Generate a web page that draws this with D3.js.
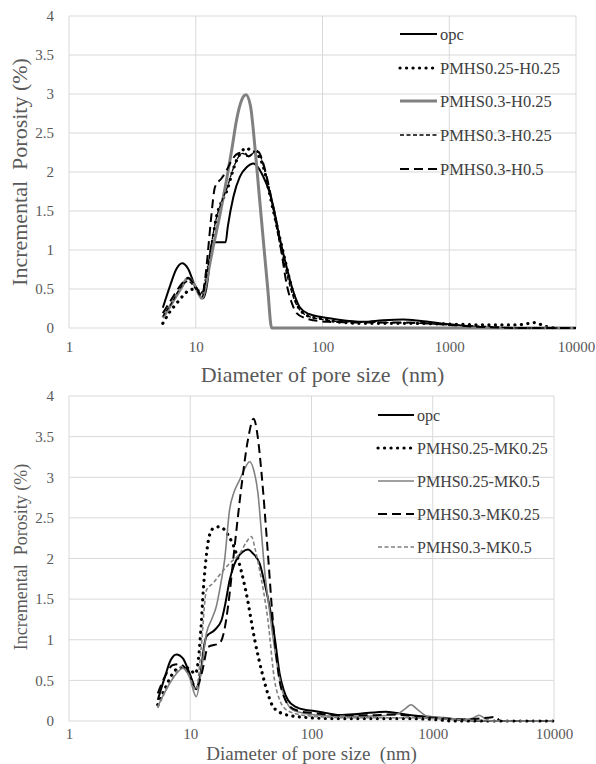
<!DOCTYPE html>
<html>
<head>
<meta charset="utf-8">
<script src="https://cdn.jsdelivr.net/npm/d3@7"></script>
<style>
  body { margin: 0; background: #fff; }
  svg { display: block; }
</style>
</head>
<body>
<svg id="chart" width="596" height="764"></svg>
<script>
/* pore size distribution, two panels */

var FONT = "Liberation Serif, Times New Roman, serif";

// shared axis ticks
var xTicks = [1, 10, 100, 1000, 10000];
var yTicks = [0, 0.5, 1, 1.5, 2, 2.5, 3, 3.5, 4];

// panel 1 series: [diameter nm, incremental porosity %]
var opcA = [[5.5,0.26],[6.3,0.55],[7.0,0.75],[7.8,0.83],[8.7,0.76],[9.8,0.55],[11.4,0.38],[12.6,0.7],[13.1,1.0],[13.6,1.1],[17.2,1.1],[17.9,1.3],[19.8,1.68],[22.3,1.94],[25.2,2.06],[28.5,2.11],[31,2.06],[34.1,1.94],[37.5,1.78],[41,1.55],[46,1.15],[52,0.79],[58,0.5],[66,0.27],[78,0.18],[98,0.14],[130,0.11],[210,0.08],[300,0.1],[430,0.11],[600,0.09],[950,0.05],[1300,0.03],[1800,0.01],[3000,0],[10000,0]];
var pmhs025H025 = [[5.5,0.06],[6.2,0.2],[7.1,0.32],[8,0.42],[9,0.49],[10,0.5],[11.1,0.44],[12,0.6],[12.6,0.79],[13.5,1.1],[14.6,1.43],[16,1.62],[17.7,1.77],[19.3,1.98],[21,2.15],[23,2.26],[24.9,2.31],[27,2.28],[29.3,2.26],[31.5,2.2],[34.1,2.07],[37,1.83],[40.9,1.51],[45,1.22],[49.1,0.96],[53.5,0.7],[58.9,0.44],[64,0.28],[70.6,0.19],[82,0.14],[98.6,0.12],[130,0.08],[200,0.06],[500,0.06],[1000,0.05],[2000,0.04],[3500,0.04],[4800,0.07],[5500,0.03],[7000,0]];
var pmhs03H025thick = [[5.5,0.13],[6.5,0.32],[7.6,0.5],[8.7,0.64],[9.8,0.55],[11.2,0.38],[12,0.55],[13,0.85],[13.8,1.06],[15.5,1.45],[17.5,1.9],[19.3,2.3],[21,2.67],[23,2.92],[24.9,2.99],[27,2.85],[29.3,2.32],[31.5,1.75],[34.1,1.13],[37,0.5],[39.7,0],[45,0],[10000,0]];
var pmhs03H025thin = [[5.5,0.15],[6.5,0.33],[7.6,0.52],[8.7,0.6],[9.8,0.52],[11.2,0.4],[12.2,0.68],[13.2,1.05],[14.5,1.4],[16,1.62],[17.7,1.8],[19.5,2.02],[21.5,2.18],[23.5,2.24],[25.5,2.2],[27.5,2.22],[30,2.28],[32.5,2.2],[35,2.02],[38,1.78],[41,1.5],[45,1.15],[49,0.88],[54,0.6],[60,0.36],[67,0.22],[78,0.15],[98,0.11],[150,0.08],[300,0.07],[600,0.06],[1000,0.04],[2000,0.02],[3500,0],[10000,0]];
var pmhs03H05 = [[5.5,0.19],[6.5,0.38],[7.6,0.55],[8.7,0.64],[9.8,0.55],[11.2,0.42],[12,0.7],[12.6,1.05],[13.2,1.4],[14.2,1.81],[16,1.92],[17.5,2.02],[19.2,2.15],[21.7,2.24],[24,2.25],[26,2.2],[28.5,2.24],[31.2,2.26],[33.5,2.15],[36.3,1.94],[40,1.62],[43.5,1.34],[48,0.92],[52,0.57],[57,0.33],[62.5,0.19],[72,0.13],[84.7,0.1],[110,0.08],[200,0.07],[450,0.07],[800,0.05],[1200,0.03],[2000,0.01],[4000,0],[10000,0]];

// panel 2 series
var opcB = [[5.4,0.26],[6.2,0.55],[6.9,0.75],[7.7,0.82],[8.7,0.77],[9.8,0.6],[11.2,0.39],[12.2,0.6],[13.1,0.95],[13.6,1.04],[15.9,1.12],[18.1,1.24],[19.5,1.45],[21.1,1.73],[23,1.92],[24.8,2.02],[27,2.08],[29.9,2.11],[33,2.06],[37.3,1.94],[41,1.7],[45.1,1.41],[50,1.0],[54.5,0.59],[59,0.38],[63.8,0.26],[75,0.17],[90,0.135],[102,0.127],[130,0.1],[170,0.074],[250,0.09],[412,0.115],[600,0.08],[935,0.05],[1300,0.03],[1875,0.01],[3000,0],[10000,0]];
var pmhs025MK025 = [[5.4,0.2],[6.2,0.4],[7.2,0.59],[8.3,0.66],[9.2,0.66],[10.2,0.62],[11,0.58],[11.6,0.72],[12.2,1.1],[12.8,1.6],[13.5,2.0],[14.5,2.3],[15.8,2.38],[17.5,2.39],[20.5,2.29],[24,2.06],[29,1.57],[34,1.0],[39.8,0.55],[44,0.32],[48,0.18],[58,0.09],[80,0.05],[150,0.03],[600,0.03],[1000,0.02],[1500,0],[10000,0]];
var pmhs025MK05 = [[5.4,0.18],[6.3,0.38],[7.4,0.55],[8.7,0.65],[9.8,0.55],[11.2,0.3],[12.3,0.6],[13.6,1.08],[15,1.25],[16.4,1.41],[17.8,1.68],[19.2,1.98],[21.1,2.6],[23,2.82],[25.6,2.97],[28,3.1],[30.9,3.19],[33.5,3.08],[36.2,2.8],[38.5,2.35],[41,1.86],[44.5,1.42],[48,1.04],[52,0.7],[56.3,0.42],[62,0.24],[70.2,0.135],[100,0.08],[150,0.06],[300,0.06],[500,0.08],[580,0.14],[662,0.2],[750,0.14],[900,0.06],[1300,0.04],[1800,0.02],[2100,0.03],[2400,0.07],[2700,0.03],[3000,0],[10000,0]];
var pmhs03MK025 = [[5.4,0.34],[6.2,0.55],[7.2,0.69],[8.2,0.7],[9,0.66],[10,0.55],[11.2,0.41],[12.5,0.6],[14,0.91],[17.5,0.96],[19,1.1],[20.5,1.41],[23.2,2.14],[26.4,2.88],[29.9,3.46],[33.3,3.72],[36,3.5],[38.5,3.09],[43.7,2.06],[48,1.24],[54.5,0.5],[60,0.28],[65.9,0.18],[80,0.12],[100,0.1],[200,0.07],[300,0.07],[450,0.08],[700,0.06],[1000,0.04],[1800,0.02],[2800,0.04],[3300,0.05],[3600,0],[10000,0]];
var pmhs03MK05 = [[5.4,0.16],[6.3,0.38],[7.4,0.56],[8.5,0.67],[9.6,0.58],[11.2,0.38],[12.3,0.9],[13.6,1.61],[15.5,1.7],[17.5,1.8],[21.1,1.94],[25.6,2.06],[29,2.2],[31.9,2.27],[34.5,2.1],[37.3,1.86],[43.7,1.24],[49.6,0.5],[54,0.28],[58,0.18],[70,0.1],[100,0.06],[200,0.04],[600,0.04],[1000,0.03],[2000,0.01],[3000,0],[10000,0]];

// line styles
var styles = {
  solid:  {stroke: "#000", width: 2, dash: null, cap: "butt"},
  dots:   {stroke: "#000", width: 3.2, dash: "0.1 6.4", cap: "round"},
  thickGray: {stroke: "#808080", width: 3, dash: null, cap: "butt"},
  thinGray:  {stroke: "#808080", width: 1.6, dash: null, cap: "butt"},
  shortDash: {stroke: "#000", width: 1.3, dash: "4 2.5", cap: "butt"},
  grayDash:  {stroke: "#808080", width: 1.6, dash: "4 2.5", cap: "butt"},
  longDash:  {stroke: "#000", width: 2, dash: "9 5", cap: "butt"}
};

var panels = [
  {left: 69, right: 576, top: 16, bottom: 328, xLabOff: 13, titleY: 382, titleSize: 22, yTitleSize: 22, yTitleY: 172,
   legX: 400, legLen: 37, legSize: 16.5, legY: [34, 68, 101, 135, 169],
   series: [
     {name: "opc", data: opcA, style: "solid"},
     {name: "PMHS0.25-H0.25", data: pmhs025H025, style: "dots"},
     {name: "PMHS0.3-H0.25", data: pmhs03H025thick, style: "thickGray"},
     {name: "PMHS0.3-H0.25", data: pmhs03H025thin, style: "shortDash"},
     {name: "PMHS0.3-H0.5", data: pmhs03H05, style: "longDash"}
   ]},
  {left: 69, right: 554, top: 396, bottom: 721, xLabOff: 7, titleY: 759.5, titleSize: 19, yTitleSize: 18, yTitleY: 557,
   legX: 378, legLen: 36, legSize: 16, legY: [415, 448, 481, 514, 547],
   series: [
     {name: "opc", data: opcB, style: "solid"},
     {name: "PMHS0.25-MK0.25", data: pmhs025MK025, style: "dots"},
     {name: "PMHS0.25-MK0.5", data: pmhs025MK05, style: "thinGray"},
     {name: "PMHS0.3-MK0.25", data: pmhs03MK025, style: "longDash"},
     {name: "PMHS0.3-MK0.5", data: pmhs03MK05, style: "grayDash"}
   ]}
];

var svg = d3.select("#chart");

panels.forEach(function(p) {
  var x = d3.scaleLog().domain([1, 10000]).range([p.left, p.right]);
  var y = d3.scaleLinear().domain([0, 4]).range([p.bottom, p.top]);
  var g = svg.append("g");

  // gridlines
  g.append("g").selectAll("line").data(yTicks).enter().append("line")
    .attr("x1", p.left).attr("x2", p.right)
    .attr("y1", function(d){ return y(d); }).attr("y2", function(d){ return y(d); })
    .attr("stroke", "#d9d9d9").attr("stroke-width", 1);
  g.append("g").selectAll("line").data(xTicks).enter().append("line")
    .attr("y1", p.top).attr("y2", p.bottom)
    .attr("x1", function(d){ return x(d); }).attr("x2", function(d){ return x(d); })
    .attr("stroke", "#d9d9d9").attr("stroke-width", 1);

  // axes (labels only)
  var xAxis = g.append("g").attr("transform", "translate(0," + p.bottom + ")")
    .call(d3.axisBottom(x).tickValues(xTicks).tickSize(0).tickPadding(p.xLabOff).tickFormat(function(d){ return d; }));
  var yAxis = g.append("g").attr("transform", "translate(" + p.left + ",0)")
    .call(d3.axisLeft(y).tickValues(yTicks).tickSize(0).tickPadding(15).tickFormat(function(d){ return d; }));
  [xAxis, yAxis].forEach(function(a) {
    a.select(".domain").remove();
    a.attr("font-family", FONT);
    a.selectAll("text").attr("font-family", FONT).attr("font-size", 15).attr("fill", "#595959");
  });

  // axis titles
  g.append("text")
    .attr("x", (p.left + p.right) / 2).attr("y", p.titleY)
    .attr("text-anchor", "middle").attr("font-family", FONT)
    .attr("font-size", p.titleSize).attr("fill", "#595959")
    .style("white-space", "pre")
    .text("Diameter of pore size  (nm)");
  g.append("text")
    .attr("transform", "translate(27," + p.yTitleY + ") rotate(-90)")
    .attr("text-anchor", "middle").attr("font-family", FONT)
    .attr("font-size", p.yTitleSize).attr("fill", "#595959")
    .style("white-space", "pre")
    .text("Incremental  Porosity (%)");

  // curves
  var line = d3.line()
    .x(function(d){ return x(d[0]); })
    .y(function(d){ return y(d[1]); })
    .curve(d3.curveMonotoneX);

  p.series.forEach(function(s) {
    var st = styles[s.style];
    g.append("path").datum(s.data)
      .attr("d", line)
      .attr("fill", "none")
      .attr("stroke", st.stroke).attr("stroke-width", st.width)
      .attr("stroke-dasharray", st.dash).attr("stroke-linecap", st.cap)
      .attr("stroke-linejoin", "round");
  });

  // legend
  p.series.forEach(function(s, i) {
    var st = styles[s.style];
    var ly = p.legY[i];
    g.append("line")
      .attr("x1", p.legX).attr("x2", p.legX + p.legLen).attr("y1", ly).attr("y2", ly)
      .attr("stroke", st.stroke).attr("stroke-width", st.width)
      .attr("stroke-dasharray", st.dash).attr("stroke-linecap", st.cap);
    g.append("text")
      .attr("x", p.legX + p.legLen + 3).attr("y", ly).attr("dy", "0.35em")
      .attr("font-family", FONT).attr("font-size", p.legSize).attr("fill", "#404040")
      .text(s.name);
  });
});
</script>
</body>
</html>
